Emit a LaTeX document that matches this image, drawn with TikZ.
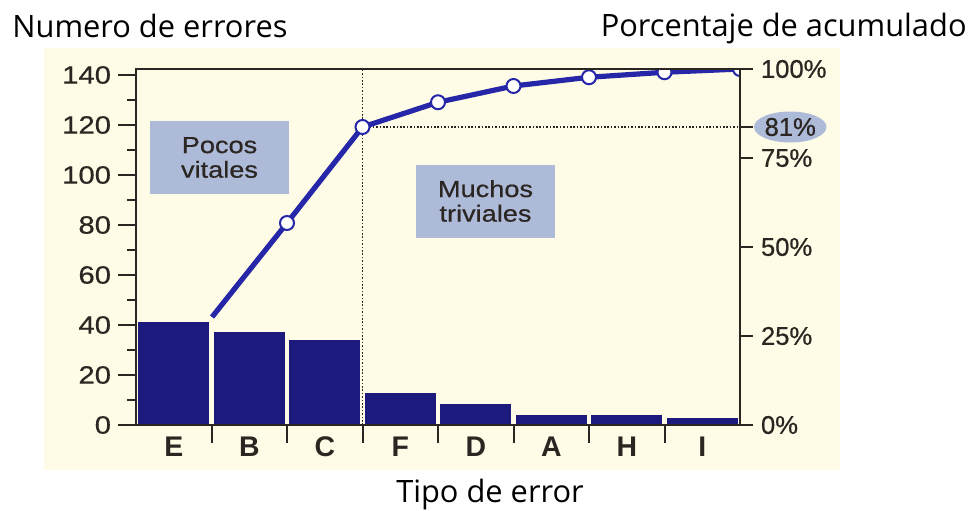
\documentclass[tikz,border=0pt]{standalone}
\usepackage{fontspec}
\setmainfont{Open Sans}
\newfontfamily\chartfont[FakeBold=0.6]{Liberation Sans}
\newfontfamily\widefont[FakeStretch=1.17,FakeBold=0.6]{Liberation Sans}
\newfontfamily\letterfont{Liberation Sans}
\usepackage{xcolor}
\usetikzlibrary{shapes.geometric}

\definecolor{cream}{HTML}{FEFCE6}
\definecolor{barblue}{HTML}{1C1A7C}
\definecolor{lineblue}{HTML}{2626A8}
\definecolor{boxblue}{HTML}{ADBAD8}
\definecolor{axisgray}{HTML}{2B2622}

\tikzset{
  bar/.style={fill=barblue},
  frameline/.style={axisgray, line width=1pt},
  guide/.style={axisgray, line width=0.8pt, dash pattern=on 0.8pt off 0.9pt},
  cumline/.style={lineblue, line width=2.6pt, line join=round},
  dot/.style={circle, draw=lineblue, line width=1pt, fill=white, inner sep=0pt, minimum size=7pt},
  tag/.style={fill=boxblue, align=center, minimum width=69.5pt, minimum height=36.5pt,
    text=axisgray, font=\widefont\fontsize{11.6}{12.3}\selectfont},
  title/.style={inner sep=0pt, font=\fontsize{15.4}{18}\selectfont},
  countlabel/.style={left, inner xsep=3pt, text=axisgray, font=\widefont\fontsize{12.5}{14}\selectfont},
  pctlabel/.style={right, inner xsep=3.5pt, text=axisgray, font=\chartfont\fontsize{12.8}{14}\selectfont},
  catlabel/.style={text=axisgray, font=\letterfont\bfseries\fontsize{14.2}{15}\selectfont}
}

\begin{document}
\begin{tikzpicture}[x=0.5pt,y=-0.5pt]
  \useasboundingbox (0,0) rectangle (977,510);
  \fill[cream] (44,48) rectangle (840,470);

  % titles
  \node[title, anchor=base west] (ytitle) at (12,37) {Numero de errores};
  \node[title, anchor=base east] (ptitle) at (967,36) {Porcentaje de acumulado};
  \node[title, anchor=base] (xtitle) at (490,502) {Tipo de error};

  \begin{scope}[shift={(136,425)}, x=37.75pt, y=1.25pt]
    % bars
    \foreach \i/\v/\l in {1/41.2/E,2/37.2/B,3/34/C,4/12.8/F,5/8.4/D,6/4/A,7/4/H,8/2.8/I}{
      \fill[bar] (\i-0.97,0) rectangle (\i-0.03,\v);
      \node[catlabel] (cat\l) at (\i-0.5,-8.8) {\l};
    }
    \foreach \i in {1,...,7}
      \draw[frameline] (\i,0) -- ++(0,-7.2);

    % left axis
    \foreach \v in {0,20,...,140}
      \draw[frameline] (0,\v) -- ++(-9pt,0) node[countlabel] (yl\v) {\v};
    \foreach \v in {10,30,...,130}
      \draw[frameline] (0,\v) -- ++(-4.5pt,0);

    % right axis
    \foreach \p/\v in {0/0,25/35.6,50/71.2,75/106.8,100/142.4}
      \draw[frameline] (8,\v) -- ++(6.5pt,0) node[pctlabel] (pl\p) {\p\%};
    \coordinate (r81) at (8,119.2);
    \draw[frameline] (r81) -- ++(6.5pt,0)
      node[ellipse, fill=boxblue, anchor=west, inner sep=0pt, minimum width=34.5pt,
           minimum height=15.5pt, text=axisgray, font=\chartfont\fontsize{12.8}{14}\selectfont] (pl81) {81\%};

    % zones
    \node[tag] (pocos) at (1.106,107) {Pocos\\vitales};
    \node[tag] (muchos) at (4.629,89.6) {Muchos\\triviales};

    % cumulative curve
    \coordinate (p1) at (1.007,43.2);
    \coordinate (p2) at (2,80.8);
    \coordinate (p3) at (3,119.2);
    \coordinate (p4) at (4,129.1);
    \coordinate (p5) at (5,135.6);
    \coordinate (p6) at (6,139.1);
    \coordinate (p7) at (7,141.1);
    \coordinate (p8) at (8,142.4);

    \draw[guide] (3,0) -- (3,142.4);
    \draw[guide] (p3) -- (r81);

    \begin{scope}
      \clip (0,0) rectangle (8,142.4);
      \draw[cumline] (p1) -- (p2) -- (p3) -- (p4) -- (p5) -- (p6) -- (p7) -- (p8);
      \foreach \k in {2,...,8}
        \node[dot] (c\k) at (p\k) {};
    \end{scope}

    \draw[frameline] (0,0) rectangle (8,142.4);
  \end{scope}
\end{tikzpicture}
\end{document}
